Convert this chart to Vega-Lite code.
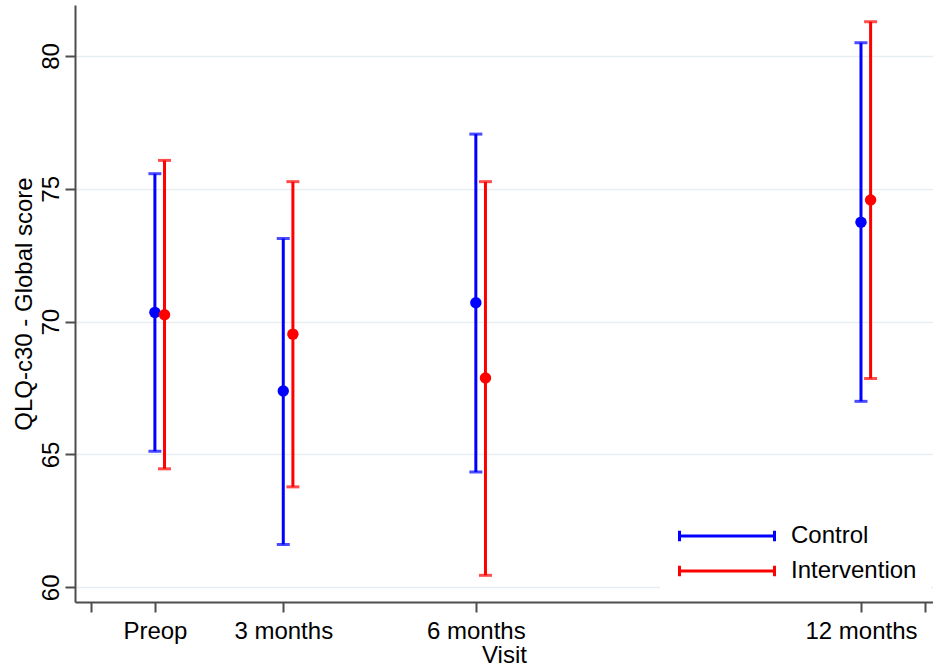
{
  "$schema": "https://vega.github.io/schema/vega-lite/v6.json",
  "width": 858,
  "height": 597,
  "autosize": {"type": "none"},
  "padding": {"left": 75, "top": 5, "right": 0, "bottom": 69},
  "background": "white",
  "config": {
    "font": "Liberation Sans",
    "view": {"stroke": null},
    "axis": {
      "domainColor": "#4d4d4d",
      "domainWidth": 2,
      "tickColor": "#4d4d4d",
      "tickWidth": 2,
      "tickSize": 10,
      "labelFontSize": 24,
      "titleFontSize": 24,
      "labelColor": "black",
      "titleColor": "black",
      "titleFontWeight": "normal",
      "labelFont": "Liberation Sans",
      "titleFont": "Liberation Sans"
    },
    "legend": {"labelFont": "Liberation Sans"}
  },
  "data": {
    "values": [
      {"group": "Control", "visit": "Preop", "time": 1, "mean": 70.35, "lo": 65.12, "hi": 75.57},
      {"group": "Control", "visit": "3 months", "time": 3, "mean": 67.39, "lo": 61.61, "hi": 73.13},
      {"group": "Control", "visit": "6 months", "time": 6, "mean": 70.71, "lo": 64.34, "hi": 77.06},
      {"group": "Control", "visit": "12 months", "time": 12, "mean": 73.74, "lo": 67.0, "hi": 80.5},
      {"group": "Intervention", "visit": "Preop", "time": 1.15, "mean": 70.26, "lo": 64.46, "hi": 76.07},
      {"group": "Intervention", "visit": "3 months", "time": 3.15, "mean": 69.53, "lo": 63.78, "hi": 75.27},
      {"group": "Intervention", "visit": "6 months", "time": 6.15, "mean": 67.88, "lo": 60.45, "hi": 75.27},
      {"group": "Intervention", "visit": "12 months", "time": 12.15, "mean": 74.58, "lo": 67.86, "hi": 81.29}
    ]
  },
  "encoding": {
    "x": {
      "field": "time",
      "type": "quantitative",
      "scale": {"domain": [-0.2446, 13.122], "nice": false, "zero": false},
      "axis": {
        "values": [0, 1, 3, 6, 12, 13],
        "labelExpr": "datum.value == 1 ? 'Preop' : datum.value == 3 ? '3 months' : datum.value == 6 ? '6 months' : datum.value == 12 ? '12 months' : ''",
        "grid": false,
        "title": "Visit",
        "titlePadding": 0,
        "labelPadding": 7,
        "labelFlush": false,
        "labelOverlap": false,
        "labelBound": false
      }
    }
  },
  "layer": [
    {
      "mark": {"type": "rule", "strokeWidth": 3},
      "encoding": {
        "y": {
          "field": "lo",
          "type": "quantitative",
          "scale": {"domain": [59.446, 81.92], "nice": false, "zero": false},
          "axis": {
            "values": [60, 65, 70, 75, 80],
            "title": "QLQ-c30 - Global score",
            "labelAngle": 270,
            "labelAlign": "center",
            "labelBaseline": "bottom",
            "labelPadding": 2,
            "titlePadding": 3,
            "grid": true,
            "gridColor": "#e6eef1",
            "gridWidth": 1.5
          }
        },
        "y2": {"field": "hi"},
        "color": {
          "field": "group",
          "type": "nominal",
          "scale": {"domain": ["Control", "Intervention"], "range": ["#0000ff", "#ff0000"]},
          "legend": {
            "title": null,
            "orient": "none",
            "legendX": 585,
            "legendY": 505,
            "padding": 14,
            "fillColor": "white",
            "symbolType": "M-5,0H5M-5,-0.55V0.55M5,-0.55V0.55",
            "symbolSize": 361,
            "symbolStrokeWidth": 3,
            "symbolFillColor": "transparent",
            "symbolOffset": 41,
            "labelOffset": 52,
            "labelFontSize": 24,
            "labelColor": "black",
            "rowPadding": 11
          }
        }
      }
    },
    {
      "mark": {"type": "tick", "orient": "horizontal", "size": 13, "thickness": 3},
      "encoding": {
        "y": {"field": "lo", "type": "quantitative"},
        "color": {"field": "group", "type": "nominal", "legend": null}
      }
    },
    {
      "mark": {"type": "tick", "orient": "horizontal", "size": 13, "thickness": 3},
      "encoding": {
        "y": {"field": "hi", "type": "quantitative"},
        "color": {"field": "group", "type": "nominal", "legend": null}
      }
    },
    {
      "mark": {"type": "point", "filled": true, "size": 130, "opacity": 1},
      "encoding": {
        "y": {"field": "mean", "type": "quantitative"},
        "color": {"field": "group", "type": "nominal", "legend": null}
      }
    }
  ]
}
